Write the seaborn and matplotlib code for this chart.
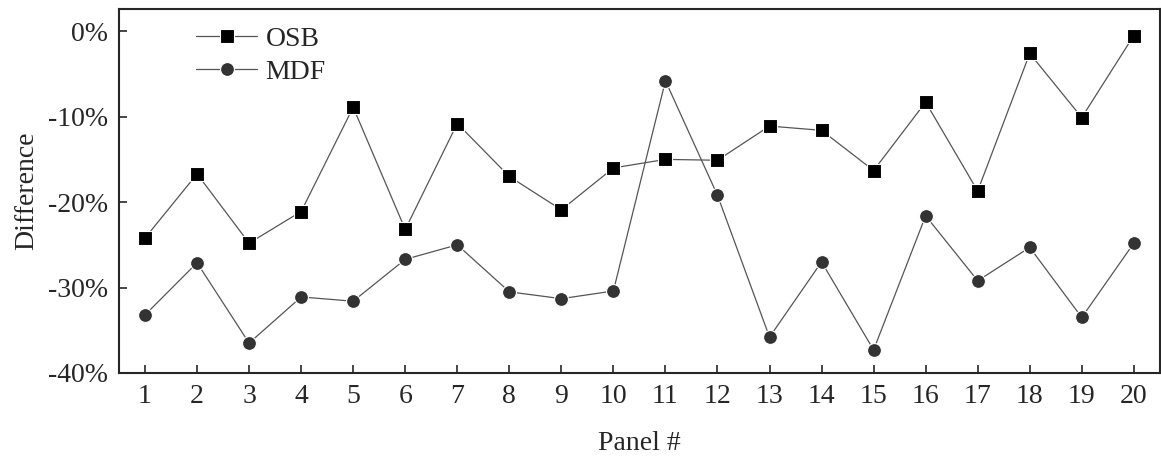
import numpy as np
import pandas as pd
import seaborn as sns
import matplotlib.pyplot as plt
from matplotlib.ticker import PercentFormatter

panels = list(range(1, 21))
osb = [-24.2, -16.7, -24.8, -21.1, -8.9, -23.2, -10.8, -17.0, -20.9, -16.0,
       -15.0, -15.1, -11.1, -11.6, -16.3, -8.3, -18.7, -2.6, -10.1, -0.5]
mdf = [-33.2, -27.1, -36.5, -31.1, -31.6, -26.7, -25.0, -30.5, -31.3, -30.4,
       -5.8, -19.2, -35.8, -27.0, -37.3, -21.6, -29.2, -25.3, -33.5, -24.8]

df = pd.DataFrame({
    'Panel': panels * 2,
    'Difference': osb + mdf,
    'Type': ['OSB'] * 20 + ['MDF'] * 20,
})

sns.set_style('ticks')
plt.rcParams['font.family'] = ['Liberation Serif', 'DejaVu Serif']
plt.rcParams['font.size'] = 20
plt.rcParams['axes.unicode_minus'] = False

fig = plt.figure(figsize=(11.61, 4.58), dpi=100)
ax = fig.add_axes([0.1025, 0.1856, 0.8965, 0.7947])

sns.lineplot(data=df, x='Panel', y='Difference', hue='Type', style='Type',
             markers={'OSB': 's', 'MDF': 'o'}, dashes=False,
             palette={'OSB': '#000000', 'MDF': '#333333'},
             markersize=10, linewidth=1, markeredgecolor='white', markeredgewidth=0.8,
             ax=ax)
for line in ax.get_lines():
    line.set_color('#555555')
    line.set_linewidth(0.9)
ax.get_lines()[0].set_markerfacecolor('#000000')
ax.get_lines()[1].set_markerfacecolor('#333333')

ax.set_xlim(0.5, 20.5)
ax.set_ylim(-40, 2.6)
ax.set_xticks(panels)
ax.set_yticks([0, -10, -20, -30, -40])
ax.yaxis.set_major_formatter(PercentFormatter(decimals=0))
ax.tick_params(direction='in', length=6, width=1.2, top=False, right=False, labelsize=20, pad=8)
for s in ax.spines.values():
    s.set_linewidth(1.5)
ax.set_xlabel('Panel #', fontsize=20, labelpad=16)
ax.set_ylabel('Difference', fontsize=20, labelpad=6)

leg = ax.legend(loc='upper left', bbox_to_anchor=(0.05, 1.02), frameon=False,
                fontsize=20, handlelength=2.2, handletextpad=0.3, labelspacing=0.25)
for h in leg.legend_handles:
    h.set_color('#555555')
leg.legend_handles[0].set_markerfacecolor('#000000')
leg.legend_handles[1].set_markerfacecolor('#333333')

fig.savefig('out.png', dpi=100)
